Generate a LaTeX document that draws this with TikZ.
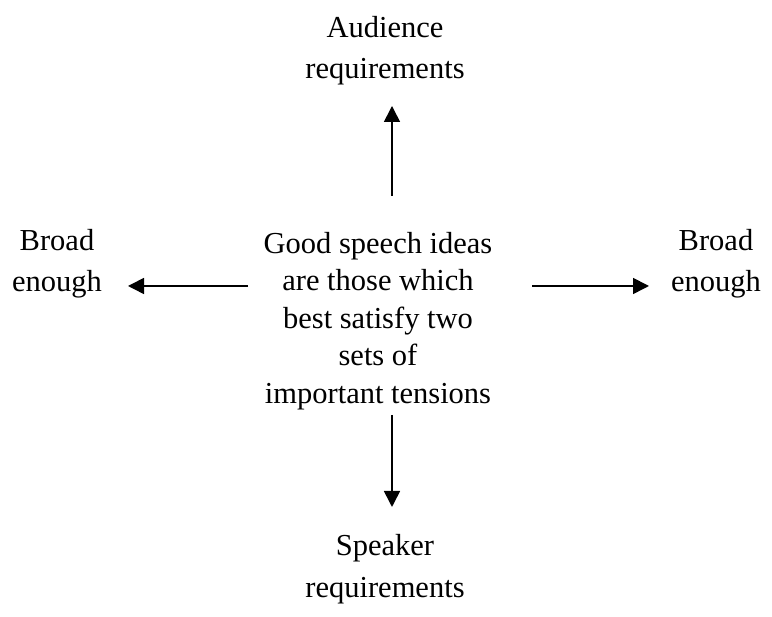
\documentclass[tikz,border=0pt]{standalone}
\usepackage{fontspec}
\setmainfont{Liberation Serif}
\usetikzlibrary{arrows.meta}
\tikzset{
  lbl/.style={inner sep=0pt, align=center, font=\fontsize{30.5}{41}\selectfont},
  conn/.style={line width=1.6pt, -{Triangle[length=16pt,width=16pt]}}
}
\begin{document}
\begin{tikzpicture}[x=1pt,y=1pt]
\useasboundingbox (0,0) rectangle (772,617);
\node[lbl] (aud) at (385,566) {Audience\\requirements};
\node[lbl, font=\fontsize{30.5}{37.5}\selectfont] (cen) at (378,296) {Good speech ideas\\are those which\\best satisfy two\\sets of\\important tensions};
\node[lbl] (lft) at (57,353) {Broad\\enough};
\node[lbl] (rgt) at (716,353) {Broad\\enough};
\node[lbl, font=\fontsize{30.5}{42}\selectfont] (spk) at (385,48) {Speaker\\requirements};
\coordinate (u0) at (392,421);
\coordinate (u1) at (392,511);
\coordinate (d0) at (392,202);
\coordinate (d1) at (392,110);
\coordinate (l0) at (248,331);
\coordinate (l1) at (128,331);
\coordinate (r0) at (532,331);
\coordinate (r1) at (649,331);
\draw[conn] (u0) -- (u1);
\draw[conn] (d0) -- (d1);
\draw[conn] (l0) -- (l1);
\draw[conn] (r0) -- (r1);
\end{tikzpicture}
\end{document}
